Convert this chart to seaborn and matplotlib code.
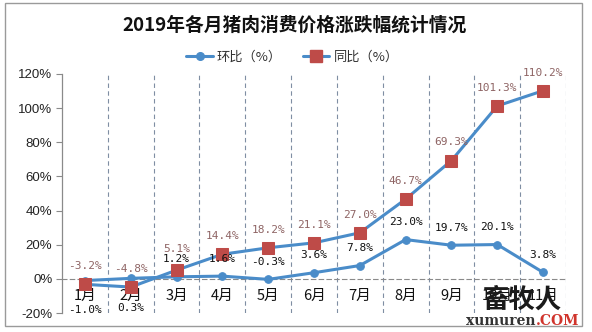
import numpy as np
import pandas as pd
import matplotlib
matplotlib.use('Agg')
import matplotlib.pyplot as plt
import seaborn as sns
from matplotlib.lines import Line2D
from matplotlib.patches import Rectangle

# ---- data ----
months = ['1月', '2月', '3月', '4月', '5月', '6月', '7月', '8月', '9月', '10月', '11月']
mom = [-1.0, 0.3, 1.2, 1.6, -0.3, 3.6, 7.8, 23.0, 19.7, 20.1, 3.8]          # 环比
yoy = [-3.2, -4.8, 5.1, 14.4, 18.2, 21.1, 27.0, 46.7, 69.3, 101.3, 110.2]  # 同比
yticks = [-20, 0, 20, 40, 60, 80, 100, 120]
title = '2019年各月猪肉消费价格涨跌幅统计情况'
legend_labels = ['环比（%）', '同比（%）']

sns.set_theme(style='white')
plt.rcParams['font.family'] = ['Noto Sans CJK SC', 'DejaVu Sans']

W, H = 592, 332
fig = plt.figure(figsize=(W / 100, H / 100), dpi=100)
fig.patch.set_facecolor('white')
ax = fig.add_axes([62 / W, 1 - 313 / H, (566 - 62) / W, (313 - 74) / H])
ax.set_facecolor('white')

df = pd.DataFrame({'month': months, 'mom': mom, 'yoy': yoy})
blue = '#4A8CC9'
red = '#BE4B48'

sns.lineplot(data=df, x='month', y='mom', ax=ax, sort=False, color=blue, lw=2.2,
             marker='o', markersize=5.5, markerfacecolor=blue, markeredgecolor=blue, zorder=3)
sns.lineplot(data=df, x='month', y='yoy', ax=ax, sort=False, color=blue, lw=2.2,
             marker='s', markersize=8, markerfacecolor=red, markeredgecolor=red, zorder=4)

ax.set_xlim(-0.5, len(months) - 0.5)
ax.set_ylim(-20, 120)
ax.set_yticks(yticks)
ax.set_yticklabels([f'{v}%' for v in yticks], fontsize=9.5, color='#222222',
                   family=['Liberation Sans', 'DejaVu Sans'])
ax.set_xlabel('')
ax.set_ylabel('')

# category boundaries dashed
ax.set_xticks(np.arange(0.5, len(months), 1), minor=True)
ax.grid(False)
ax.grid(which='minor', axis='x', ls=(0, (4, 3)), color='#7f8ea3', lw=0.8)
ax.tick_params(axis='x', which='minor', length=0)

# x axis at zero, dashed
for s in ['top', 'right']:
    ax.spines[s].set_visible(False)
ax.spines['bottom'].set_position(('data', 0))
ax.spines['bottom'].set_linestyle((0, (4, 3)))
ax.spines['bottom'].set_color('#8a8a8a')
ax.spines['bottom'].set_linewidth(0.8)
ax.spines['left'].set_color('#8a8a8a')
ax.spines['left'].set_linewidth(0.9)
ax.tick_params(axis='y', which='major', direction='out', length=4, width=0.8,
               color='#8a8a8a', left=True, pad=3)
ax.tick_params(axis='x', which='major', length=0, pad=7, labelsize=10.5, labelcolor='#111111')
ax.set_xticks(range(len(months)))
ax.set_xticklabels(months)

# data labels
for i, v in enumerate(yoy):
    off = 15 if i == 2 else 13
    ax.annotate(f'{v:.1f}%', (i, v), xytext=(0, off), textcoords='offset points',
                ha='center', va='center', color='#8E6464', fontsize=8,
                family='DejaVu Sans Mono', zorder=6)
for i, v in enumerate(mom):
    off = -21.5 if i < 2 else 12.5
    ax.annotate(f'{v:.1f}%', (i, v), xytext=(0, off), textcoords='offset points',
                ha='center', va='center', color='#111111', fontsize=8,
                family='DejaVu Sans Mono', zorder=6)

# legend
handles = [
    Line2D([], [], color=blue, lw=2.2, marker='o', markersize=5.5,
           markerfacecolor=blue, markeredgecolor=blue),
    Line2D([], [], color=blue, lw=2.2, marker='s', markersize=8,
           markerfacecolor=red, markeredgecolor=red),
]
leg = fig.legend(handles, legend_labels, loc='center', bbox_to_anchor=(0.494, 0.828),
                 ncol=2, frameon=False, fontsize=9.5, handlelength=2.0,
                 columnspacing=1.6, handletextpad=0.3)
for t in leg.get_texts():
    t.set_color('#333333')

# title
fig.text(0.497, 0.925, title, ha='center', va='center', fontsize=13.5,
         fontweight='bold', color='#111111')

# outer frame
fig.add_artist(Rectangle((5 / W, 6 / H), (582 - 5) / W, (329 - 6) / H,
                         transform=fig.transFigure, fill=False, ec='#9a9a9a', lw=1))

# watermark logo text
fig.text(522 / W, 1 - 300 / H, '畜牧人', ha='center', va='center', fontsize=19,
         fontweight='bold', color='#1a1a1a', zorder=10)
fig.text(536 / W, 1 - 321 / H, 'xumuren', ha='right', va='center', fontsize=10,
         fontweight='bold', family='DejaVu Serif', color='#333333', zorder=10)
fig.text(536 / W, 1 - 321 / H, '.COM', ha='left', va='center', fontsize=10,
         fontweight='bold', family='DejaVu Serif', color='#D0342C', zorder=10)

fig.savefig('out.png', dpi=100, facecolor='white')
